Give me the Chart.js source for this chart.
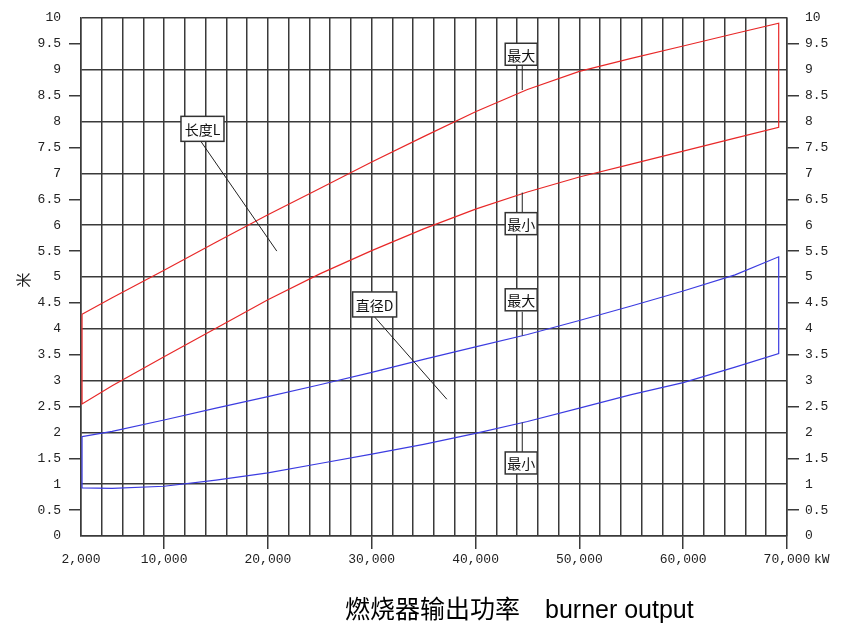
<!DOCTYPE html>
<html>
<head>
<meta charset="utf-8">
<script src="https://cdn.jsdelivr.net/npm/chart.js@4.4.1/dist/chart.umd.min.js"></script>
<style>
  body { margin: 0; background: #fff; }
</style>
</head>
<body>
<canvas id="box" width="850" height="637"></canvas>
<script>
// burner output in kW, shared by all four curves
var kw = [2100, 5000, 10000, 15000, 20000, 25000, 30000, 35000, 40000, 45000, 50000, 55000, 60000, 65000, 69200];

// flame length L (m)
var lengthMax = [4.28, 4.60, 5.13, 5.67, 6.20, 6.71, 7.22, 7.71, 8.19, 8.62, 8.97, 9.22, 9.46, 9.70, 9.90];
var lengthMin = [2.55, 2.90, 3.46, 4.01, 4.56, 5.06, 5.51, 5.93, 6.31, 6.64, 6.93, 7.18, 7.43, 7.68, 7.89];

// flame diameter D (m)
var diamMax = [1.92, 2.02, 2.24, 2.47, 2.69, 2.92, 3.16, 3.41, 3.65, 3.89, 4.16, 4.44, 4.73, 5.04, 5.39];
var diamMin = [0.93, 0.92, 0.96, 1.08, 1.22, 1.40, 1.58, 1.77, 1.98, 2.21, 2.47, 2.73, 2.96, 3.26, 3.52];

var xTicks = [2000, 10000, 20000, 30000, 40000, 50000, 60000, 70000];

// labels: box centre and leader line, in chart units
var notes = [
    { text: '长度L', at: [13700, 7.86], w: 43, h: 25, from: [13470, 7.64], to: [20860, 5.5] },
    { text: '直径D', at: [30280, 4.47], w: 44, h: 25, from: [30230, 4.24], to: [37240, 2.64] },
    { text: '最大', at: [44400, 9.30], w: 32, h: 22, from: [44500, 9.09], to: [44500, 8.61] },
    { text: '最小', at: [44400, 6.03], w: 32, h: 22, from: [44500, 6.63], to: [44500, 6.25] },
    { text: '最大', at: [44400, 4.56], w: 32, h: 22, from: [44500, 4.33], to: [44500, 3.87] },
    { text: '最小', at: [44400, 1.41], w: 32, h: 22, from: [44500, 2.19], to: [44500, 1.62] }
];

function outline(top, bottom) {
    var pts = [];
    for (var i = 0; i < kw.length; i++) pts.push({ x: kw[i], y: top[i] });
    for (var j = kw.length - 1; j >= 0; j--) pts.push({ x: kw[j], y: bottom[j] });
    pts.push({ x: kw[0], y: top[0] });
    return pts;
}

var gridCol = '#3a3a3a';
var tickFont = { family: 'Liberation Mono', size: 13 };

var extras = {
    id: 'extras',
    afterDatasetsDraw: function (chart) {
        var ctx = chart.ctx, xs = chart.scales.x, ys = chart.scales.y;
        ctx.save();
        // leader lines
        ctx.strokeStyle = '#222';
        ctx.lineWidth = 1;
        notes.forEach(function (n) {
            ctx.beginPath();
            ctx.moveTo(xs.getPixelForValue(n.from[0]), ys.getPixelForValue(n.from[1]));
            ctx.lineTo(xs.getPixelForValue(n.to[0]), ys.getPixelForValue(n.to[1]));
            ctx.stroke();
        });
        // boxes
        ctx.font = '14px "Noto Sans CJK SC"';
        ctx.textAlign = 'center';
        ctx.textBaseline = 'middle';
        notes.forEach(function (n) {
            var cx = xs.getPixelForValue(n.at[0]), cy = ys.getPixelForValue(n.at[1]);
            ctx.fillStyle = '#fff';
            ctx.fillRect(cx - n.w / 2, cy - n.h / 2, n.w, n.h);
            ctx.lineWidth = 1.5;
            ctx.strokeStyle = '#333';
            ctx.strokeRect(cx - n.w / 2, cy - n.h / 2, n.w, n.h);
            ctx.fillStyle = '#111';
            ctx.fillText(n.text, cx, cy + 1);
        });
        // unit after last x label
        ctx.font = '13px "Liberation Mono"';
        ctx.textAlign = 'left';
        ctx.fillStyle = '#222';
        ctx.fillText('kW', xs.getPixelForValue(70000) + 27, 560);
        // y unit
        ctx.save();
        ctx.translate(23, 280);
        ctx.rotate(-Math.PI / 2);
        ctx.textAlign = 'center';
        ctx.font = '15px "Noto Sans CJK SC"';
        ctx.fillText('米', 0, 0);
        ctx.restore();
        // x title
        ctx.textBaseline = 'alphabetic';
        ctx.fillStyle = '#000';
        ctx.font = '25px "Noto Sans CJK SC"';
        ctx.fillText('燃烧器输出功率', 345, 618);
        ctx.font = '25px "Liberation Sans"';
        ctx.fillText('burner output', 545, 618);
        ctx.restore();
    }
};

var mychart = new Chart('box', {
    type: 'scatter',
    data: {
        datasets: [
            {
                label: '长度L',
                data: outline(lengthMax, lengthMin),
                showLine: true,
                borderColor: 'rgb(232, 40, 40)',
                borderWidth: 1.2,
                pointRadius: 0,
                tension: 0
            },
            {
                label: '直径D',
                data: outline(diamMax, diamMin),
                showLine: true,
                borderColor: 'rgb(60, 60, 225)',
                borderWidth: 1.2,
                pointRadius: 0,
                tension: 0
            }
        ]
    },
    options: {
        responsive: false,
        animation: false,
        layout: { padding: { top: 18 } },
        plugins: { legend: { display: false }, tooltip: { enabled: false } },
        scales: {
            x: {
                type: 'linear',
                min: 2000,
                max: 70000,
                afterFit: function (s) { s.height = 101; },
                border: { color: gridCol, width: 1.5 },
                grid: {
                    color: gridCol,
                    lineWidth: 1.5,
                    tickLength: 13,
                    tickColor: function (c) {
                        return c.tick && c.tick.value !== 2000 && xTicks.indexOf(c.tick.value) >= 0 ? gridCol : 'transparent';
                    }
                },
                ticks: {
                    stepSize: 2000,
                    autoSkip: false,
                    maxRotation: 0,
                    padding: 3,
                    color: '#222',
                    font: tickFont,
                    callback: function (v) {
                        return xTicks.indexOf(v) >= 0 ? v.toLocaleString('en-US') : '';
                    }
                }
            },
            y: {
                min: 0,
                max: 10,
                afterFit: function (s) { s.width = 81; },
                border: { color: gridCol, width: 1.5 },
                grid: {
                    lineWidth: 1.5,
                    tickLength: 12,
                    color: function (c) { return c.tick && c.tick.value % 1 === 0 ? gridCol : 'transparent'; },
                    tickColor: function (c) { return c.tick && c.tick.value % 1 !== 0 ? gridCol : 'transparent'; }
                },
                ticks: {
                    stepSize: 0.5,
                    padding: 8,
                    color: '#222',
                    font: tickFont,
                    callback: function (v) { return String(v); }
                }
            },
            y2: {
                position: 'right',
                min: 0,
                max: 10,
                afterFit: function (s) { s.width = 63; },
                border: { color: gridCol, width: 1.5 },
                grid: {
                    drawOnChartArea: false,
                    lineWidth: 1.5,
                    tickLength: 12,
                    tickColor: function (c) { return c.tick && c.tick.value % 1 !== 0 ? gridCol : 'transparent'; }
                },
                ticks: {
                    stepSize: 0.5,
                    padding: 6,
                    color: '#222',
                    font: tickFont,
                    callback: function (v) { return String(v); }
                }
            }
        }
    },
    plugins: [extras]
});
</script>
</body>
</html>
